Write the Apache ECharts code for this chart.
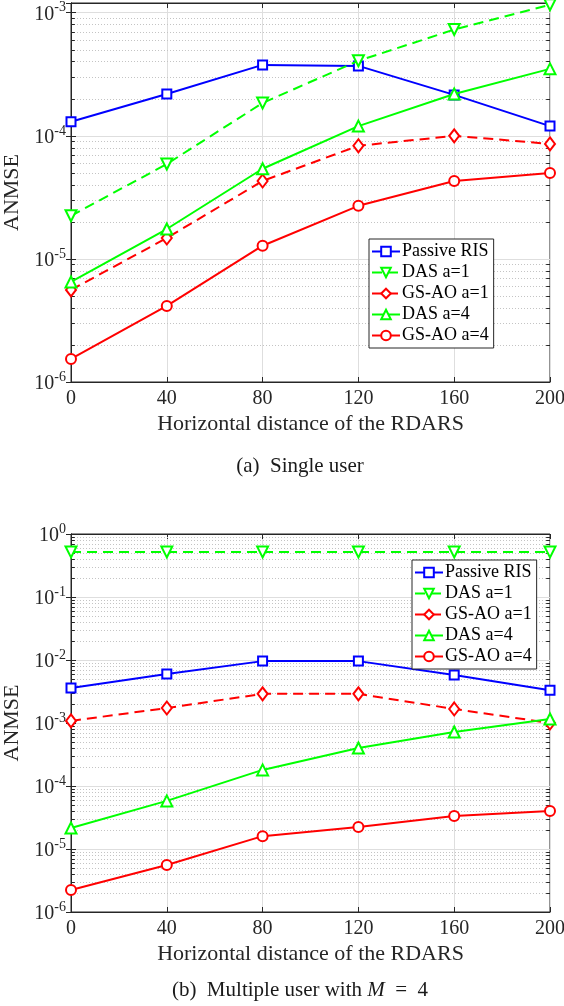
<!DOCTYPE html>
<html>
<head>
<meta charset="utf-8">
<script src="https://cdn.jsdelivr.net/npm/echarts@6/dist/echarts.min.js"></script>
<style>html,body{margin:0;padding:0;background:#fff;}#c{width:564px;height:1006px;}</style>
</head>
<body>
<div id="c"></div>
<script>
// ---- data ----
var xs = [0, 40, 80, 120, 160, 200];
var seriesNames = ['Passive RIS', 'DAS a=1', 'GS-AO a=1', 'DAS a=4', 'GS-AO a=4'];
// (a) Single user
var passiveA = [1.30e-4, 2.19e-4, 3.77e-4, 3.70e-4, 2.15e-4, 1.20e-4];
var das1A    = [2.24e-5, 5.9e-5, 1.85e-4, 4.07e-4, 7.3e-4, 1.16e-3];
var gsao1A   = [5.6e-6, 1.48e-5, 4.3e-5, 8.3e-5, 1.0e-4, 8.6e-5];
var das4A    = [6.5e-6, 1.75e-5, 5.4e-5, 1.2e-4, 2.19e-4, 3.5e-4];
var gsao4A   = [1.54e-6, 4.15e-6, 1.28e-5, 2.7e-5, 4.3e-5, 5.0e-5];
// (b) Multiple user with M = 4
var passiveB = [3.6e-3, 6.0e-3, 9.6e-3, 9.6e-3, 5.8e-3, 3.3e-3];
var das1B    = [0.52, 0.52, 0.52, 0.52, 0.52, 0.52];
var gsao1B   = [1.08e-3, 1.73e-3, 2.9e-3, 2.9e-3, 1.67e-3, 1.0e-3];
var das4B    = [2.15e-5, 5.8e-5, 1.8e-4, 4.0e-4, 7.2e-4, 1.16e-3];
var gsao4B   = [2.23e-6, 5.57e-6, 1.6e-5, 2.23e-5, 3.34e-5, 4.0e-5];
var xRange = [0, 200];
var xStep = 40;
var yRangeA = [1e-6, 1.2e-3];
var yRangeB = [1e-6, 1];
var xLabel = 'Horizontal distance of the RDARS';
var yLabel = 'ANMSE';

// ---- build ----
var FONT = 'Liberation Serif';
var AX = '#262626';
var GRIDC = '#dedede';
var MINORC = '#c4c4c4';

function pairs(vals) { return xs.map(function (x, i) { return [x, vals[i]]; }); }

function minorValues(r) {
  var out = [];
  for (var e = Math.round(Math.log10(r[0])); e < Math.ceil(Math.log10(r[1])); e++) {
    for (var k = 2; k <= 9; k++) {
      var v = k * Math.pow(10, e);
      if (v > r[0] && v < r[1]) out.push(v);
    }
  }
  return out;
}

function helperSeries(gi, r) {
  var mv = minorValues(r);
  var lines = [];
  mv.forEach(function (v) {
    lines.push({ yAxis: v, lineStyle: { color: MINORC, type: [1, 2], width: 1 } });
  });
  mv.forEach(function (v) {
    lines.push([{ coord: [xRange[0], v], lineStyle: { color: AX, type: 'solid', width: 1 } }, { coord: [xRange[0] + 1.6, v] }]);
    lines.push([{ coord: [xRange[1] - 1.6, v], lineStyle: { color: AX, type: 'solid', width: 1 } }, { coord: [xRange[1], v] }]);
  });
  return {
    type: 'line', name: '_grid' + gi, xAxisIndex: gi, yAxisIndex: gi,
    data: [[xRange[0], r[0] * 2]], symbol: 'none', lineStyle: { opacity: 0 }, silent: true,
    z: 1, animation: false,
    markLine: { silent: true, symbol: 'none', z: 1, precision: 12, animation: false, label: { show: false },
      emphasis: { disabled: true }, data: lines }
  };
}

var styles = [
  { color: '#0000ff', symbol: 'emptyRect', size: 9, dash: 'solid', rotate: 0 },
  { color: '#00ff00', symbol: 'emptyTriangle', size: 11, dash: [10, 6], rotate: 180 },
  { color: '#ff0000', symbol: 'emptyDiamond', size: [10, 13], dash: [10, 6], rotate: 0 },
  { color: '#00ff00', symbol: 'emptyTriangle', size: 11, dash: 'solid', rotate: 0 },
  { color: '#ff0000', symbol: 'emptyCircle', size: 10, dash: 'solid', rotate: 0 }
];

function dataSeries(gi, arrs) {
  return arrs.map(function (a, i) {
    var s = styles[i];
    return {
      type: 'line', name: seriesNames[i], xAxisIndex: gi, yAxisIndex: gi,
      data: pairs(a), symbol: s.symbol, symbolSize: s.size, symbolRotate: s.rotate,
      showAllSymbol: true, z: 2 + i, animation: false,
      lineStyle: { color: s.color, width: 2, type: s.dash },
      itemStyle: { color: s.color, borderColor: s.color, borderWidth: 1.6 },
      emphasis: { disabled: true }
    };
  });
}

function expLabel(v) {
  var e = Math.round(Math.log10(v));
  return '{b|10}{s|' + e + '}';
}
var richLab = {
  b: { fontFamily: FONT, fontSize: 20, color: AX, verticalAlign: 'bottom', lineHeight: 24 },
  s: { fontFamily: FONT, fontSize: 14, color: AX, verticalAlign: 'top', lineHeight: 24 }
};

function xAxisMain(gi) {
  return {
    type: 'value', gridIndex: gi, min: xRange[0], max: xRange[1], interval: xStep, position: 'bottom',
    name: xLabel, nameLocation: 'middle', nameGap: 31,
    nameTextStyle: { fontFamily: FONT, fontSize: 22, color: AX },
    axisLine: { show: true, lineStyle: { color: AX, width: 1 } },
    axisTick: { show: true, inside: true, length: 5, lineStyle: { color: AX } },
    axisLabel: { fontFamily: FONT, fontSize: 20, color: AX, margin: 7, hideOverlap: false },
    splitLine: { show: true, lineStyle: { color: GRIDC, width: 1 } }
  };
}
function xAxisTop(gi) {
  return {
    type: 'value', gridIndex: gi, min: xRange[0], max: xRange[1], interval: xStep, position: 'top',
    axisLine: { show: true, lineStyle: { color: AX } },
    axisTick: { show: true, inside: true, length: 5, lineStyle: { color: AX } },
    axisLabel: { show: false }, splitLine: { show: false }
  };
}
function yAxisMain(gi, r, showMax) {
  return {
    type: 'log', logBase: 10, gridIndex: gi, min: r[0], max: r[1], position: 'left',
    name: yLabel, nameLocation: 'middle', nameGap: 46, nameRotate: 90,
    nameTextStyle: { fontFamily: FONT, fontSize: 22, color: AX },
    axisLine: { show: true, lineStyle: { color: AX } },
    axisTick: { show: true, inside: true, length: 5, lineStyle: { color: AX } },
    axisLabel: { formatter: expLabel, rich: richLab, margin: 5, showMaxLabel: showMax, showMinLabel: true },
    splitLine: { show: true, lineStyle: { color: GRIDC, width: 1 } }
  };
}
function yAxisRight(gi, r) {
  return {
    type: 'log', logBase: 10, gridIndex: gi, min: r[0], max: r[1], position: 'right',
    axisLine: { show: true, lineStyle: { color: AX } },
    axisTick: { show: true, inside: true, length: 5, lineStyle: { color: AX } },
    axisLabel: { show: false }, splitLine: { show: false }
  };
}
function legendAt(left, top) {
  return {
    orient: 'vertical', left: left, top: top, data: seriesNames,
    backgroundColor: '#fff', borderColor: AX, borderWidth: 1, borderRadius: 0,
    padding: [2, 5, 2, 2], itemGap: 0, itemWidth: 28, itemHeight: 12,
    selectedMode: false,
    textStyle: { fontFamily: FONT, fontSize: 18, color: '#000', lineHeight: 21, padding: [0, 0, 0, -3] }
  };
}
function gridAt(top, height) {
  return { left: 71, right: 14, top: top, height: height, show: true, borderColor: AX, borderWidth: 1,
    backgroundColor: 'transparent', containLabel: false, outerBoundsMode: 'none' };
}

var option = {
  backgroundColor: '#fff',
  animation: false,
  grid: [gridAt(3, 379), gridAt(534, 378)],
  xAxis: [xAxisMain(0), xAxisMain(1), xAxisTop(0), xAxisTop(1)],
  yAxis: [yAxisMain(0, yRangeA, false), yAxisMain(1, yRangeB, true), yAxisRight(0, yRangeA), yAxisRight(1, yRangeB)],
  legend: [legendAt(369, 239), legendAt(412, 560)],
  title: [
    { text: '(a)  Single user', left: 295, top: 451, textAlign: 'center',
      textStyle: { fontFamily: FONT, fontSize: 21, fontWeight: 'normal', color: '#1a1a1a' } },
    { text: '(b)  Multiple user with {i|M}\u2002=\u20024', left: 295, top: 975, textAlign: 'center',
      textStyle: { fontFamily: FONT, fontSize: 21, fontWeight: 'normal', color: '#1a1a1a',
        rich: { i: { fontFamily: FONT, fontSize: 21, fontStyle: 'italic', color: '#1a1a1a' } } } }
  ],
  series: [helperSeries(0, yRangeA), helperSeries(1, yRangeB)]
    .concat(dataSeries(0, [passiveA, das1A, gsao1A, das4A, gsao4A]))
    .concat(dataSeries(1, [passiveB, das1B, gsao1B, das4B, gsao4B]))
};

var chart = echarts.init(document.getElementById('c'), null, { renderer: 'canvas' });
chart.setOption(option);
</script>
</body>
</html>
